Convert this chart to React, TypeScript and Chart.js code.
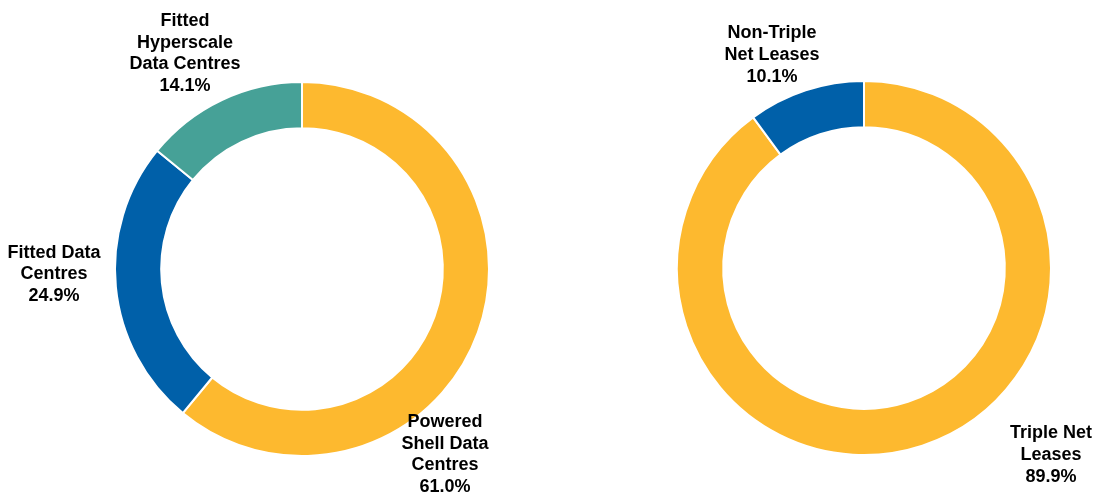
import React, { useEffect, useRef } from "react";
import { Chart, registerables } from "chart.js";

Chart.register(...registerables);

// Left donut: asset type split
const assetCategories: string[][] = [
  ["Powered", "Shell Data", "Centres"],
  ["Fitted Data", "Centres"],
  ["Fitted", "Hyperscale", "Data Centres"],
];
const assetValues = [61.0, 24.9, 14.1];
const assetColors = ["#FDB92F", "#0060A9", "#46A197"];

// Right donut: lease type split
const leaseCategories: string[][] = [
  ["Triple Net", "Leases"],
  ["Non-Triple", "Net Leases"],
];
const leaseValues = [89.9, 10.1];
const leaseColors = ["#FDB92F", "#0060A9"];

const FONT = "bold 18px 'Liberation Sans', Arial, sans-serif";
const LINE_H = 21.6;

type LabelOpts = { offsets: [number, number][]; lines: string[][] };

const donutLabels = {
  id: "donutLabels",
  afterDraw(chart: any, _args: any, opts: LabelOpts) {
    const meta = chart.getDatasetMeta(0);
    const arc0 = meta.data[0];
    if (!arc0) return;
    const cx = arc0.x;
    const cy = arc0.y;
    const ds = chart.data.datasets[0];
    const ctx = chart.ctx;
    ctx.save();
    ctx.font = FONT;
    ctx.fillStyle = "#000000";
    ctx.textAlign = "center";
    ctx.textBaseline = "middle";
    ds.data.forEach((v: number, i: number) => {
      const text = [...opts.lines[i], v.toFixed(1) + "%"];
      const [dx, dy] = opts.offsets[i];
      const top = cy + dy - ((text.length - 1) * LINE_H) / 2;
      text.forEach((t, j) => ctx.fillText(t, cx + dx, top + j * LINE_H));
    });
    ctx.restore();
  },
};

function Donut(props: {
  values: number[];
  colors: string[];
  lines: string[][];
  offsets: [number, number][];
  padding: { left: number; right: number; top: number; bottom: number };
  left: number;
  width: number;
}) {
  const ref = useRef<HTMLCanvasElement | null>(null);
  useEffect(() => {
    if (!ref.current) return;
    const chart = new Chart(ref.current, {
      type: "doughnut",
      data: {
        labels: props.lines.map((l) => l.join(" ")),
        datasets: [
          {
            data: props.values,
            backgroundColor: props.colors,
            borderColor: "#ffffff",
            borderWidth: 2,
          },
        ],
      },
      options: {
        animation: false,
        responsive: true,
        maintainAspectRatio: false,
        radius: 187,
        cutout: "75.3%",
        layout: { padding: props.padding },
        plugins: {
          legend: { display: false },
          tooltip: { enabled: false },
          donutLabels: { offsets: props.offsets, lines: props.lines },
        } as any,
      },
      plugins: [donutLabels],
    });
    return () => chart.destroy();
  }, []);
  return (
    <div
      style={{
        position: "absolute",
        left: props.left,
        top: 0,
        width: props.width,
        height: 493,
      }}
    >
      <canvas ref={ref} />
    </div>
  );
}

export default function App() {
  return (
    <div
      style={{
        position: "fixed",
        left: 0,
        top: 0,
        width: 1096,
        height: 493,
        background: "#ffffff",
      }}
    >
      <Donut
        values={assetValues}
        colors={assetColors}
        lines={assetCategories}
        offsets={[
          [143, 185.5],
          [-248, 5.5],
          [-117, -215.5],
        ]}
        padding={{ left: 24, right: 0, top: 45, bottom: 0 }}
        left={0}
        width={580}
      />
      <Donut
        values={leaseValues}
        colors={leaseColors}
        lines={leaseCategories}
        offsets={[
          [187, 187],
          [-92, -213],
        ]}
        padding={{ left: 52, right: 0, top: 43, bottom: 0 }}
        left={580}
        width={516}
      />
    </div>
  );
}
